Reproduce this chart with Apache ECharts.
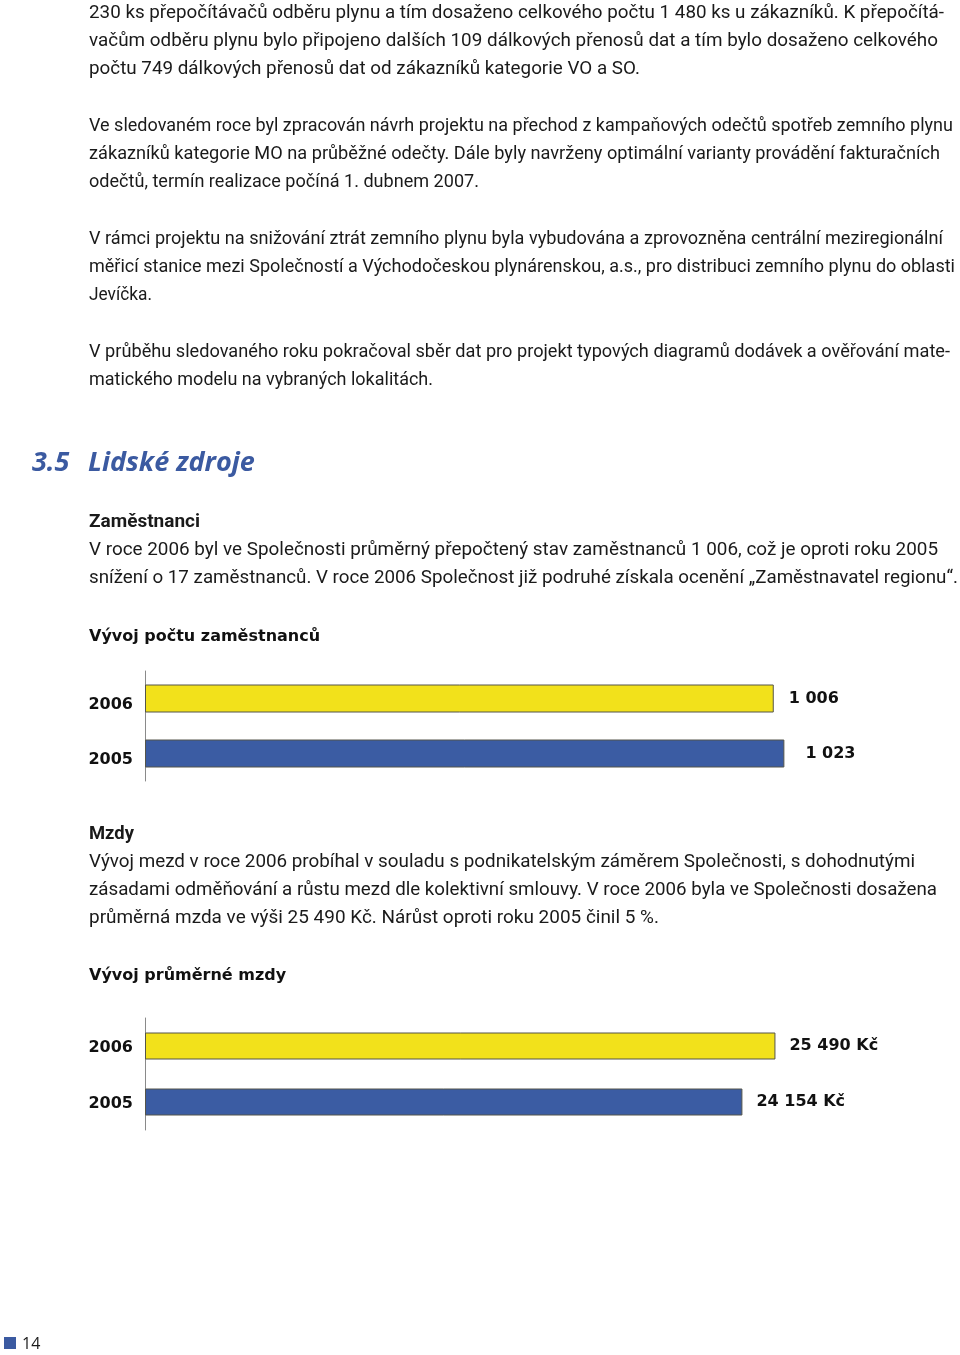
<!DOCTYPE html>
<html lang="cs">
<head>
<meta charset="utf-8">
<title>Lidské zdroje</title>
<script src="https://cdn.jsdelivr.net/npm/echarts@6/dist/echarts.min.js"></script>
<style>
  html, body { margin: 0; padding: 0; background: #ffffff; }
  #page { position: relative; width: 960px; height: 1355px; overflow: hidden; background: #fff; }
  #chart { position: absolute; left: 0; top: 0; width: 960px; height: 1355px; }
  .ln { position: absolute; left: 89px; height: 28px; line-height: 28px; white-space: nowrap;
        font-family: Roboto, "Open Sans", sans-serif; font-size: 18.5px; color: #1a1a1a;
        transform-origin: 0 50%; }
  .b { font-weight: bold; }
  #heading { position: absolute; left: 32px; top: 443px; line-height: 36px; white-space: nowrap;
        font-family: "Open Sans", "Noto Sans", sans-serif; font-weight: bold; font-style: italic;
        font-size: 27px; color: #3b5aa1; }
  #heading span { display: inline-block; width: 56px; }
  #pgsq { position: absolute; left: 4px; top: 1337px; width: 12px; height: 12px; background: #3b5aa1; }
  #pgno { position: absolute; left: 22px; top: 1331px; line-height: 24px; font-family: "Open Sans", sans-serif;
        font-size: 16px; color: #1a1a1a; }
</style>
</head>
<body>
<div id="page">
  <div id="chart"></div>
  <div id="text"></div>
  <div id="heading"><span>3.5</span>Lidské zdroje</div>
  <div id="pgsq"></div>
  <div id="pgno">14</div>
</div>
<script>
// ---- data ----
const categories = ['2006', '2005'];
const employeeCounts = [1006, 1023];
const employeeLabels = ['1 006', '1 023'];
const averageWages = [25490, 24154];
const wageLabels = ['25 490 Kč', '24 154 Kč'];
const chartTitles = ['Vývoj počtu zaměstnanců', 'Vývoj průměrné mzdy'];

// ---- body text lines: [text, bold] ----
const textLines = [
  ['230 ks přepočítávačů odběru plynu a tím dosaženo celkového počtu 1 480 ks u zákazníků. K přepočítá-', 0],
  ['vačům odběru plynu bylo připojeno dalších 109 dálkových přenosů dat a tím bylo dosaženo celkového', 0],
  ['počtu 749 dálkových přenosů dat od zákazníků kategorie VO a SO.', 0],
  ['Ve sledovaném roce byl zpracován návrh projektu na přechod z kampaňových odečtů spotřeb zemního plynu', 0],
  ['zákazníků kategorie MO na průběžné odečty. Dále byly navrženy optimální varianty provádění fakturačních', 0],
  ['odečtů, termín realizace počíná 1. dubnem 2007.', 0],
  ['V rámci projektu na snižování ztrát zemního plynu byla vybudována a zprovozněna centrální meziregionální', 0],
  ['měřicí stanice mezi Společností a Východočeskou plynárenskou, a.s., pro distribuci zemního plynu do oblasti', 0],
  ['Jevíčka.', 0],
  ['V průběhu sledovaného roku pokračoval sběr dat pro projekt typových diagramů dodávek a ověřování mate-', 0],
  ['matického modelu na vybraných lokalitách.', 0],
  ['Zaměstnanci', 1],
  ['V roce 2006 byl ve Společnosti průměrný přepočtený stav zaměstnanců 1 006, což je oproti roku 2005', 0],
  ['snížení o 17 zaměstnanců. V roce 2006 Společnost již podruhé získala ocenění „Zaměstnavatel regionu“.', 0],
  ['Mzdy', 1],
  ['Vývoj mezd v roce 2006 probíhal v souladu s podnikatelským záměrem Společnosti, s dohodnutými', 0],
  ['zásadami odměňování a růstu mezd dle kolektivní smlouvy. V roce 2006 byla ve Společnosti dosažena', 0],
  ['průměrná mzda ve výši 25 490 Kč. Nárůst oproti roku 2005 činil 5 %.', 0]
];
// layout of each line: [centre y, right edge x] (page pixels)
const lineLayout = [
  [12, 944], [40, 938], [68, 640],
  [125, 953], [153, 940], [181, 479],
  [238, 943], [266, 955], [294, 152],
  [351, 950], [379, 433],
  [521, 200], [549, 938], [577, 958],
  [833, 134], [861, 915], [889, 937], [917, 659]
];

const textBox = document.getElementById('text');
textLines.forEach(function (t, i) {
  const d = document.createElement('div');
  d.className = 'ln' + (t[1] ? ' b' : '');
  d.style.top = (lineLayout[i][0] - 14) + 'px';
  d.textContent = t[0];
  textBox.appendChild(d);
  const w = d.getBoundingClientRect().width;
  d.style.transform = 'scaleX(' + ((lineLayout[i][1] - 89) / w) + ')';
});

// ---- chart ----
const YELLOW = '#f2e11b';
const BLUE = '#3b5ca3';
const labelFont = { fontFamily: 'DejaVu Sans', fontWeight: 'bold', fontSize: 16, color: '#111' };

function barSeries(idx, values, labels, barW, distances) {
  return {
    type: 'bar',
    xAxisIndex: idx,
    yAxisIndex: idx,
    barWidth: barW,
    data: values.map(function (v, i) {
      return { value: v, label: { distance: distances[i] } };
    }),
    itemStyle: {
      color: function (p) { return p.dataIndex === 0 ? YELLOW : BLUE; },
      borderColor: '#55554a',
      borderWidth: 1
    },
    label: Object.assign({
      show: true,
      position: 'right',
      formatter: function (p) { return labels[p.dataIndex]; }
    }, labelFont),
    silent: true,
    animation: false
  };
}

// labels sit a little below the bar centre in the reference: top-aligned box of height 2*shift
function catAxis(idx, shift) {
  return {
    type: 'category',
    gridIndex: idx,
    data: categories,
    inverse: true,
    axisLine: { show: true, lineStyle: { color: '#8a8a8a', width: 1 } },
    axisTick: { show: false },
    axisLabel: Object.assign({ margin: 12, verticalAlign: 'top', lineHeight: 2 * shift }, labelFont),
    splitLine: { show: false }
  };
}

const titleStyle = { fontFamily: 'DejaVu Sans', fontWeight: 'bold', fontSize: 16, color: '#111' };

const option = {
  backgroundColor: 'transparent',
  animation: false,
  title: [
    { text: chartTitles[0], left: 89, top: 629, padding: 0, textStyle: titleStyle },
    { text: chartTitles[1], left: 89, top: 968, padding: 0, textStyle: titleStyle }
  ],
  grid: [
    { left: 145, top: 671, width: 750, height: 110 },
    { left: 145, top: 1018, width: 742, height: 112 }
  ],
  xAxis: [
    { type: 'value', gridIndex: 0, min: 0, max: 1200, show: false },
    { type: 'value', gridIndex: 1, min: 0, max: 30000, show: false }
  ],
  yAxis: [catAxis(0, 6), catAxis(1, 2)],
  series: [
    barSeries(0, employeeCounts, employeeLabels, 28, [15, 21]),
    barSeries(1, averageWages, wageLabels, 27, [14, 14])
  ]
};

const chart = echarts.init(document.getElementById('chart'), null, { renderer: 'canvas' });
chart.setOption(option);
</script>
</body>
</html>
